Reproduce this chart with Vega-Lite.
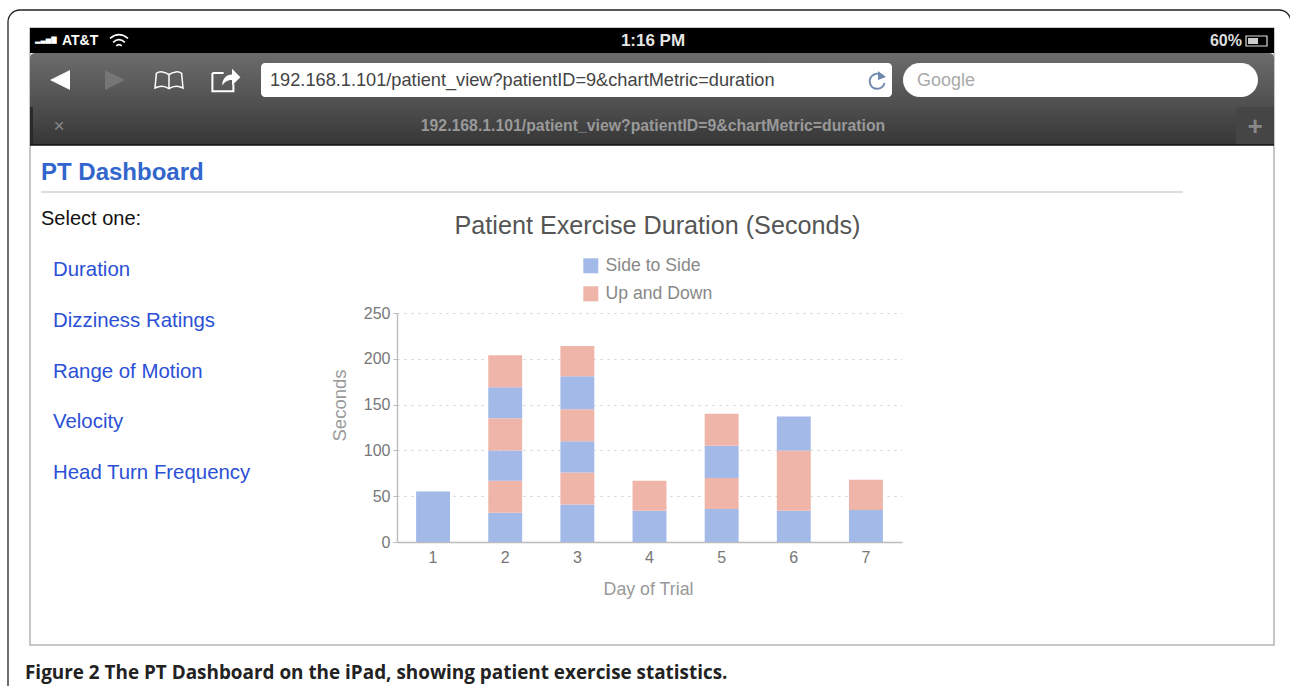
{
"$schema":"https://vega.github.io/schema/vega-lite/v6.json",
"width":505,"height":229,
"autosize":"none",
"padding":{"left":397,"top":313,"right":388,"bottom":144},
"background":"white",
"title":{"text":"Patient Exercise Duration (Seconds)","font":"Liberation Sans","fontSize":25.2,"fontWeight":"normal","color":"#555555","dx":8,"offset":-230,"anchor":"middle"},
"config":{"font":"Liberation Sans","view":{"stroke":null}},
"layer":[
{"data":{"values":[{"part":"frame"}]},"mark":{"type":"rect","filled":false,"stroke":"#222222","strokeWidth":1.3,"cornerRadius":12},"encoding":{"x":{"value":-389},"x2":{"value":894},"y":{"value":-303},"y2":{"value":400}}},
{"data":{"values":[{"part":"page"}]},"mark":{"type":"rect","filled":false,"stroke":"#b5b5b5","strokeWidth":1.5},"encoding":{"x":{"value":-367},"x2":{"value":877},"y":{"value":-285},"y2":{"value":332}}},
{"data":{"values":[{"part":"toolbar"}]},"mark":{"type":"rect","cornerRadiusTopLeft":5,"cornerRadiusTopRight":5,"fill":{"gradient":"linear","x1":0,"y1":0,"x2":0,"y2":1,"stops":[{"offset":0,"color":"#6c6c6c"},{"offset":0.55,"color":"#505050"},{"offset":1,"color":"#363636"}]}},"encoding":{"x":{"value":-367},"x2":{"value":877},"y":{"value":-260},"y2":{"value":-168}}},
{"data":{"values":[{"part":"status"}]},"mark":{"type":"rect","fill":"#000000"},"encoding":{"x":{"value":-367},"x2":{"value":877},"y":{"value":-285},"y2":{"value":-260}}},
{"data":{"values":[{"part":"plus tab"}]},"mark":{"type":"rect","fill":"#454545","cornerRadiusTopLeft":4},"encoding":{"x":{"value":839},"x2":{"value":877},"y":{"value":-206},"y2":{"value":-168}}},
{"data":{"values":[{"part":"tab edge"}]},"mark":{"type":"rect","fill":"#2a2a2a","cornerRadiusTopRight":4},"encoding":{"x":{"value":-367},"x2":{"value":-364},"y":{"value":-206},"y2":{"value":-168}}},
{"data":{"values":[{"part":"tab line"}]},"mark":{"type":"rule","stroke":"#111111","strokeWidth":1.5},"encoding":{"x":{"value":-367},"x2":{"value":877},"y":{"value":-168}}},
{"data":{"values":[{"part":"url field"}]},"mark":{"type":"rect","fill":"#ffffff","cornerRadius":4},"encoding":{"x":{"value":-136},"x2":{"value":495},"y":{"value":-250},"y2":{"value":-216}}},
{"data":{"values":[{"part":"search field"}]},"mark":{"type":"rect","fill":"#ffffff","cornerRadius":17},"encoding":{"x":{"value":506},"x2":{"value":861},"y":{"value":-250},"y2":{"value":-216}}},
{"data":{"values":[{"part":"divider"}]},"mark":{"type":"rule","stroke":"#dddddd","strokeWidth":2},"encoding":{"x":{"value":-356},"x2":{"value":786},"y":{"value":-121}}},
{"data":{"values":[{"icon":"back"}]},"mark":{"type":"point","shape":"M1,-1 L1,1 L-1,0 Z","filled":true,"fill":"#ffffff","size":400,"opacity":1},"encoding":{"x":{"value":-337},"y":{"value":-233}}},
{"data":{"values":[{"icon":"forward"}]},"mark":{"type":"point","shape":"M-1,-1 L-1,1 L1,0 Z","filled":true,"fill":"#767676","size":400,"opacity":1},"encoding":{"x":{"value":-282},"y":{"value":-233}}},
{"data":{"values":[{"icon":"book"}]},"mark":{"type":"point","shape":"M0,-0.45 C-0.3,-0.7 -0.7,-0.7 -0.9,-0.55 L-1,0.5 C-0.7,0.35 -0.3,0.35 0,0.55 C0.3,0.35 0.7,0.35 1,0.5 L0.9,-0.55 C0.7,-0.7 0.3,-0.7 0,-0.45 Z M0,-0.45 L0,0.55","filled":false,"stroke":"#ffffff","strokeWidth":1.5,"size":784,"opacity":1},"encoding":{"x":{"value":-228},"y":{"value":-232}}},
{"data":{"values":[{"icon":"share box"}]},"mark":{"type":"point","shape":"M-0.9,-0.5 L-0.1,-0.5 M-0.9,-0.5 L-0.9,0.8 L0.6,0.8 L0.6,0.3","filled":false,"stroke":"#ffffff","strokeWidth":2,"size":784,"opacity":1},"encoding":{"x":{"value":-172},"y":{"value":-233}}},
{"data":{"values":[{"icon":"share arrow"}]},"mark":{"type":"point","shape":"M-0.2,0.4 C-0.2,-0.2 0.2,-0.4 0.5,-0.4 L0.5,-0.8 L1.1,-0.2 L0.5,0.4 L0.5,0 C0.2,0 0,0.1 -0.2,0.4 Z","filled":true,"fill":"#ffffff","size":784,"opacity":1},"encoding":{"x":{"value":-172},"y":{"value":-233}}},
{"data":{"values":[{"icon":"reload"}]},"mark":{"type":"point","shape":"M0.6,-0.45 A0.75,0.75 0 1 0 0.75,0.2","filled":false,"stroke":"#6f88ad","strokeWidth":2,"size":400,"opacity":1},"encoding":{"x":{"value":480},"y":{"value":-232}}},
{"data":{"values":[{"icon":"reload head"}]},"mark":{"type":"point","shape":"M0.1,-1 L0.9,-0.4 L0.1,-0.1 Z","filled":true,"fill":"#6f88ad","size":400,"opacity":1},"encoding":{"x":{"value":480},"y":{"value":-232}}},
{"data":{"values":[{"icon":"wifi"}]},"mark":{"type":"point","shape":"M-1,-0.3 Q0,-1.1 1,-0.3 M-0.65,0.15 Q0,-0.45 0.65,0.15 M-0.3,0.55 Q0,0.25 0.3,0.55","filled":false,"stroke":"#ffffff","strokeWidth":1.7,"size":324,"opacity":1},"encoding":{"x":{"value":-278},"y":{"value":-272}}},
{"data":{"values":[{"icon":"battery"}]},"mark":{"type":"rect","filled":false,"stroke":"#dddddd","strokeWidth":1.2},"encoding":{"x":{"value":849},"x2":{"value":870},"y":{"value":-277},"y2":{"value":-267}}},
{"data":{"values":[{"icon":"battery charge"}]},"mark":{"type":"rect","fill":"#cccccc"},"encoding":{"x":{"value":851},"x2":{"value":861},"y":{"value":-275},"y2":{"value":-269}}},
{"data":{"values":[{"label":"▂▃▅▇"}]},"mark":{"type":"text","font":"DejaVu Sans","fontSize":7,"color":"#ffffff","align":"left","baseline":"middle"},"encoding":{"text":{"field":"label"},"x":{"value":-362},"y":{"value":-273}}},
{"data":{"values":[{"label":"AT&T"}]},"mark":{"type":"text","fontSize":14,"fontWeight":"bold","color":"#ffffff","align":"left","baseline":"middle"},"encoding":{"text":{"field":"label"},"x":{"value":-335},"y":{"value":-272}}},
{"data":{"values":[{"label":"1:16 PM"}]},"mark":{"type":"text","fontSize":17,"fontWeight":"bold","color":"#e5e5e5","align":"center","baseline":"middle"},"encoding":{"text":{"field":"label"},"x":{"value":256},"y":{"value":-272}}},
{"data":{"values":[{"label":"60%"}]},"mark":{"type":"text","fontSize":16,"fontWeight":"bold","color":"#dddddd","align":"right","baseline":"middle"},"encoding":{"text":{"field":"label"},"x":{"value":845},"y":{"value":-272}}},
{"data":{"values":[{"label":"192.168.1.101/patient_view?patientID=9&chartMetric=duration"}]},"mark":{"type":"text","fontSize":18.2,"color":"#444444","align":"left","baseline":"middle"},"encoding":{"text":{"field":"label"},"x":{"value":-127},"y":{"value":-232}}},
{"data":{"values":[{"label":"Google"}]},"mark":{"type":"text","fontSize":18,"color":"#aaaaaa","align":"left","baseline":"middle"},"encoding":{"text":{"field":"label"},"x":{"value":520},"y":{"value":-232}}},
{"data":{"values":[{"label":"×"}]},"mark":{"type":"text","fontSize":19,"color":"#888888","align":"center","baseline":"middle"},"encoding":{"text":{"field":"label"},"x":{"value":-338},"y":{"value":-187}}},
{"data":{"values":[{"label":"192.168.1.101/patient_view?patientID=9&chartMetric=duration"}]},"mark":{"type":"text","fontSize":15.8,"fontWeight":"bold","color":"#999999","align":"center","baseline":"middle"},"encoding":{"text":{"field":"label"},"x":{"value":256},"y":{"value":-187}}},
{"data":{"values":[{"label":"+"}]},"mark":{"type":"text","fontSize":26,"fontWeight":"bold","color":"#888888","align":"center","baseline":"middle"},"encoding":{"text":{"field":"label"},"x":{"value":858},"y":{"value":-186}}},
{"data":{"values":[{"label":"PT Dashboard"}]},"mark":{"type":"text","fontSize":24,"fontWeight":"bold","color":"#3366cc","align":"left","baseline":"middle"},"encoding":{"text":{"field":"label"},"x":{"value":-356},"y":{"value":-140}}},
{"data":{"values":[{"label":"Select one:"}]},"mark":{"type":"text","fontSize":20,"color":"#111111","align":"left","baseline":"middle"},"encoding":{"text":{"field":"label"},"x":{"value":-356},"y":{"value":-94}}},
{"data":{"values":[{"label":"Duration"},{"label":"Dizziness Ratings"},{"label":"Range of Motion"},{"label":"Velocity"},{"label":"Head Turn Frequency"}]},"mark":{"type":"text","fontSize":20.4,"color":"#2b50d6","align":"left","baseline":"middle"},"encoding":{"text":{"field":"label"},"x":{"value":-344},"y":{"field":"label","type":"nominal","sort":null,"axis":null,"scale":{"type":"point","padding":0,"range":[-43,160]}}}},
{"data":{"values":[{"label":"Figure 2 The PT Dashboard on the iPad, showing patient exercise statistics."}]},"mark":{"type":"text","font":"Open Sans","fontSize":18.9,"fontWeight":"bold","color":"#222222","align":"left","baseline":"middle"},"encoding":{"text":{"field":"label"},"x":{"value":-372},"y":{"value":360}}},
{"data":{"values":[
{"day":1,"exercise":"Side to Side","seq":1,"seconds":55},
{"day":2,"exercise":"Side to Side","seq":1,"seconds":32},
{"day":2,"exercise":"Up and Down","seq":2,"seconds":35},
{"day":2,"exercise":"Side to Side","seq":3,"seconds":33},
{"day":2,"exercise":"Up and Down","seq":4,"seconds":35},
{"day":2,"exercise":"Side to Side","seq":5,"seconds":34},
{"day":2,"exercise":"Up and Down","seq":6,"seconds":35},
{"day":3,"exercise":"Side to Side","seq":1,"seconds":41},
{"day":3,"exercise":"Up and Down","seq":2,"seconds":35},
{"day":3,"exercise":"Side to Side","seq":3,"seconds":34},
{"day":3,"exercise":"Up and Down","seq":4,"seconds":35},
{"day":3,"exercise":"Side to Side","seq":5,"seconds":36},
{"day":3,"exercise":"Up and Down","seq":6,"seconds":33},
{"day":4,"exercise":"Side to Side","seq":1,"seconds":34},
{"day":4,"exercise":"Up and Down","seq":2,"seconds":33},
{"day":5,"exercise":"Side to Side","seq":1,"seconds":36},
{"day":5,"exercise":"Up and Down","seq":2,"seconds":34},
{"day":5,"exercise":"Side to Side","seq":3,"seconds":35},
{"day":5,"exercise":"Up and Down","seq":4,"seconds":35},
{"day":6,"exercise":"Side to Side","seq":1,"seconds":34},
{"day":6,"exercise":"Up and Down","seq":2,"seconds":66},
{"day":6,"exercise":"Side to Side","seq":3,"seconds":37},
{"day":7,"exercise":"Side to Side","seq":1,"seconds":35},
{"day":7,"exercise":"Up and Down","seq":2,"seconds":33}
]},
"mark":{"type":"bar"},
"encoding":{
"x":{"field":"day","type":"ordinal","scale":{"paddingInner":0.53,"paddingOuter":0.265},
"axis":{"title":"Day of Trial","titleFontSize":17.8,"titleFontWeight":"normal","titleColor":"#999999","titlePadding":15,"titleX":251,"labelAngle":0,"labelFontSize":16,"labelColor":"#777777","labelPadding":7,"ticks":false,"domainColor":"#bbbbbb","domainWidth":1.3,"grid":false}},
"y":{"field":"seconds","type":"quantitative","stack":"zero","scale":{"domain":[0,250],"nice":false},
"axis":{"title":"Seconds","titleFontSize":18.5,"titleFontWeight":"normal","titleColor":"#999999","titlePadding":14,"titleY":92,"values":[0,50,100,150,200,250],"labelFontSize":16,"labelColor":"#777777","labelPadding":3,"tickSize":4,"tickColor":"#bbbbbb","domainColor":"#bbbbbb","domainWidth":1.3,"grid":true,"gridColor":"#cfcfcf","gridDash":[2,5]}},
"order":{"field":"seq","type":"ordinal"},
"color":{"field":"exercise","type":"nominal","scale":{"domain":["Side to Side","Up and Down"],"range":["#a3b9e8","#f0b5a9"]},
"legend":{"title":null,"orient":"none","legendX":185,"legendY":-56,"symbolType":"square","symbolSize":225,"symbolOpacity":1,"symbolStrokeWidth":0,"labelFontSize":17.6,"labelColor":"#888888","labelOffset":6,"rowPadding":9}}
}
}
]
}
